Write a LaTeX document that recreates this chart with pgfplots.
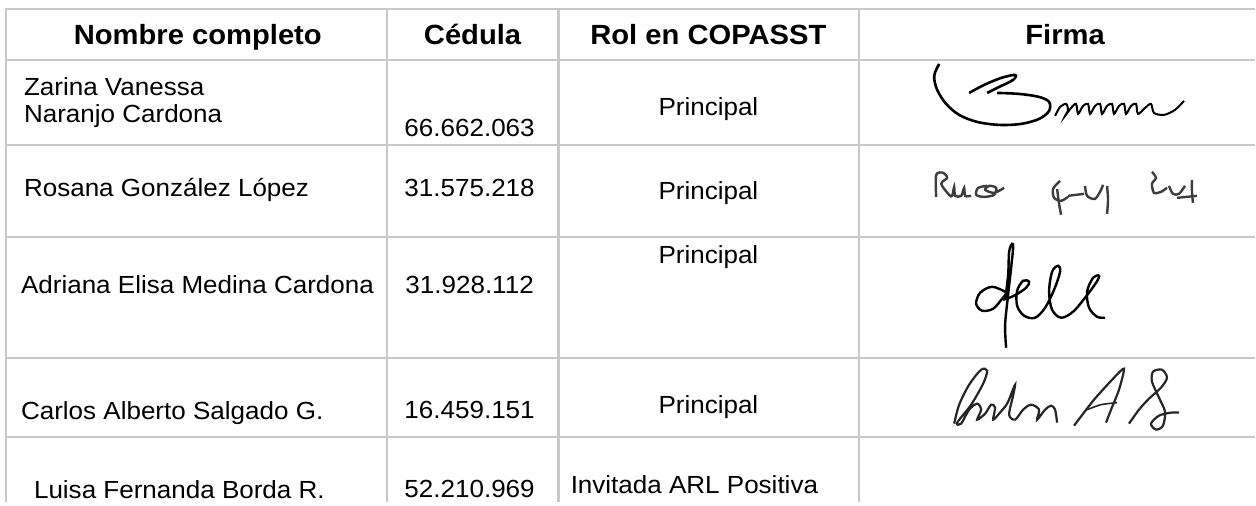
\documentclass[border=0pt]{standalone}
\usepackage{fontspec}
\setmainfont{Liberation Sans}[FakeStretch=1.05]
\usepackage{pgfplots}
\pgfplotsset{compat=1.18}
\definecolor{gridc}{RGB}{200,200,200}
\definecolor{sigtwo}{RGB}{60,60,65}
\newcommand{\hdr}{\fontsize{13.9}{16}\selectfont\bfseries}
\newcommand{\bdy}{\fontsize{12.4}{14}\selectfont}
\begin{document}
\begin{tikzpicture}
\begin{axis}[width=628pt,height=251pt,scale only axis,
  xmin=0,xmax=1256,ymin=0,ymax=502,y dir=reverse,hide axis,clip=false,
  every node/.style={inner sep=0pt}]
\addplot[draw=none] coordinates {(0,0)(1256,502)};
% table grid
\addplot[gridc,line width=1.1pt] coordinates {(5,9)(1256,9)};
\addplot[gridc,line width=1.1pt] coordinates {(5,60)(1256,60)};
\addplot[gridc,line width=1.1pt] coordinates {(5,145)(1256,145)};
\addplot[gridc,line width=1.1pt] coordinates {(5,237)(1256,237)};
\addplot[gridc,line width=1.1pt] coordinates {(5,358)(1256,358)};
\addplot[gridc,line width=1.1pt] coordinates {(5,437)(1256,437)};
\addplot[gridc,line width=1.1pt] coordinates {(6,9)(6,502)};
\addplot[gridc,line width=1.1pt] coordinates {(387,9)(387,502)};
\addplot[gridc,line width=1.1pt] coordinates {(559,9)(559,502)};
\addplot[gridc,line width=1.1pt] coordinates {(860,9)(860,502)};
% header
\node[anchor=base,font=\hdr] at (axis cs:198,45) {Nombre completo};
\node[anchor=base,font=\hdr] at (axis cs:473,45) {Cédula};
\node[anchor=base,font=\hdr] at (axis cs:709,45) {Rol en COPASST};
\node[anchor=base,font=\hdr] at (axis cs:1066,45) {Firma};
% row 1
\node[anchor=base west,font=\bdy] at (axis cs:17,96) {Zarina Vanessa};
\node[anchor=base west,font=\bdy] at (axis cs:17,123) {Naranjo Cardona};
\node[anchor=base,font=\bdy] at (axis cs:470,137) {66.662.063};
\node[anchor=base,font=\bdy] at (axis cs:709,116) {Principal};
% row 2
\node[anchor=base west,font=\bdy] at (axis cs:17,197) {Rosana González López};
\node[anchor=base,font=\bdy] at (axis cs:470,197) {31.575.218};
\node[anchor=base,font=\bdy] at (axis cs:709,200) {Principal};
% row 3
\node[anchor=base west,font=\bdy] at (axis cs:14,294) {Adriana Elisa Medina Cardona};
\node[anchor=base,font=\bdy] at (axis cs:470,294) {31.928.112};
\node[anchor=base,font=\bdy] at (axis cs:709,264) {Principal};
% row 4
\node[anchor=base west,font=\bdy] at (axis cs:14,420) {Carlos Alberto Salgado G.};
\node[anchor=base,font=\bdy] at (axis cs:470,419) {16.459.151};
\node[anchor=base,font=\bdy] at (axis cs:709,414) {Principal};
% row 5
\node[anchor=base west,font=\bdy] at (axis cs:27,499) {Luisa Fernanda Borda R.};
\node[anchor=base,font=\bdy] at (axis cs:470,498) {52.210.969};
\node[anchor=base,font=\bdy] at (axis cs:695,494) {Invitada ARL Positiva};
% signature 1
\addplot[black,line width=1.3pt,smooth,tension=0.55] coordinates {(940,64)(935,76)(938,90)(947,104)(960,115)(978,122)(1000,125)(1022,124)(1040,119)(1050,111)(1050,102)(1040,97)(1020,94)(998,93)};
\addplot[black,line width=1.3pt,smooth,tension=0.55] coordinates {(970,93)(985,85)(1002,78)(1016,75)(1014,80)(1000,87)(988,93)};
\addplot[black,line width=1.0pt,smooth,tension=0.5] coordinates {(1056,116)(1061,107)(1067,104)(1069,110)(1066,116)(1072,108)(1077,104)(1079,114)(1084,106)(1089,104)(1091,114)(1096,106)(1101,104)(1103,114)(1108,106)(1113,104)(1115,114)(1120,106)(1125,104)(1127,114)(1132,106)(1137,104)(1139,114)(1146,108)(1152,104)(1155,113)(1165,115)(1176,110)(1185,101)};
% signature 2
\addplot[sigtwo,line width=1.2pt,smooth,tension=0.5] coordinates {(937,197)(937,175)(944,173)(948,178)(942,184)(950,195)(953,196)(955,187)(956,196)(962,196)(965,188)(966,196)(972,196)};
\addplot[sigtwo,line width=1.2pt,smooth,tension=0.5] coordinates {(988,186)(979,188)(977,195)(985,197)(995,195)(997,188)(990,186)(986,190)(995,193)(1005,188)};
\addplot[sigtwo,line width=1.2pt,smooth,tension=0.5] coordinates {(1061,181)(1054,189)(1055,198)(1062,201)(1069,197)};
\addplot[sigtwo,line width=1.2pt,smooth,tension=0.5] coordinates {(1058,189)(1060,204)(1062,215)};
\addplot[sigtwo,line width=1.2pt] coordinates {(1069,196)(1085,194)};
\addplot[sigtwo,line width=1.2pt,smooth,tension=0.5] coordinates {(1086,186)(1088,196)(1096,199)(1102,190)(1104,185)};
\addplot[sigtwo,line width=1.2pt,smooth,tension=0.5] coordinates {(1108,186)(1109,200)(1108,214)};
\addplot[sigtwo,line width=1.2pt,smooth,tension=0.5] coordinates {(1153,172)(1157,178)(1153,184)(1155,193)(1162,192)(1168,188)};
\addplot[sigtwo,line width=1.2pt,smooth,tension=0.5] coordinates {(1170,186)(1174,194)(1180,194)(1186,186)};
\addplot[sigtwo,line width=1.2pt,smooth,tension=0.5] coordinates {(1193,180)(1193,192)(1194,203)};
\addplot[sigtwo,line width=1.2pt] coordinates {(1178,198)(1198,196)};
% signature 3
\addplot[black,line width=1.2pt,smooth,tension=0.55] coordinates {(1007,348)(1006,325)(1009,295)(1012,268)(1014,248)(1013,244)(1010,252)(1009,275)(1006,300)};
\addplot[black,line width=1.2pt,smooth,tension=0.55] coordinates {(1006,292)(993,287)(981,293)(977,304)(983,311)(994,309)(1003,299)(1008,293)};
\addplot[black,line width=1.2pt,smooth,tension=0.55] coordinates {(1004,300)(1015,296)(1027,288)(1030,282)(1024,281)(1018,291)(1018,306)(1025,316)(1036,318)(1046,308)(1055,290)(1061,272)(1059,266)(1053,272)(1050,292)(1053,310)(1062,318)(1074,312)(1086,298)(1097,283)(1100,276)(1094,278)(1088,292)(1090,308)(1098,317)(1106,318)};
% signature 4
\addplot[black!85,line width=1.1pt,smooth,tension=0.5] coordinates {(955,424)(960,405)(970,385)(982,370)(988,371)(984,384)(972,405)(958,423)(962,424)(970,410)(978,404)(982,410)(978,420)(986,414)(992,405)(996,408)(994,420)(1000,414)(1008,404)(1013,392)(1016,385)(1014,396)(1010,415)(1016,420)(1024,410)(1032,405)(1040,410)(1038,420)(1046,410)(1052,406)(1056,410)(1058,423)};
\addplot[black!85,line width=1.1pt,smooth,tension=0.4] coordinates {(1075,426)(1095,400)(1115,378)(1125,369)(1120,390)(1112,410)(1107,423)};
\addplot[black!85,line width=0.8pt,smooth,tension=0.4] coordinates {(1088,410)(1102,405)(1118,403)};
\addplot[black!85,line width=1.1pt,smooth,tension=0.5] coordinates {(1130,424)(1140,410)(1150,399)(1162,388)(1168,378)(1163,370)(1154,372)(1153,382)(1160,398)(1166,412)(1164,426)(1157,430)(1152,424)(1160,416)(1172,413)(1180,413)};
\end{axis}
\end{tikzpicture}
\end{document}
